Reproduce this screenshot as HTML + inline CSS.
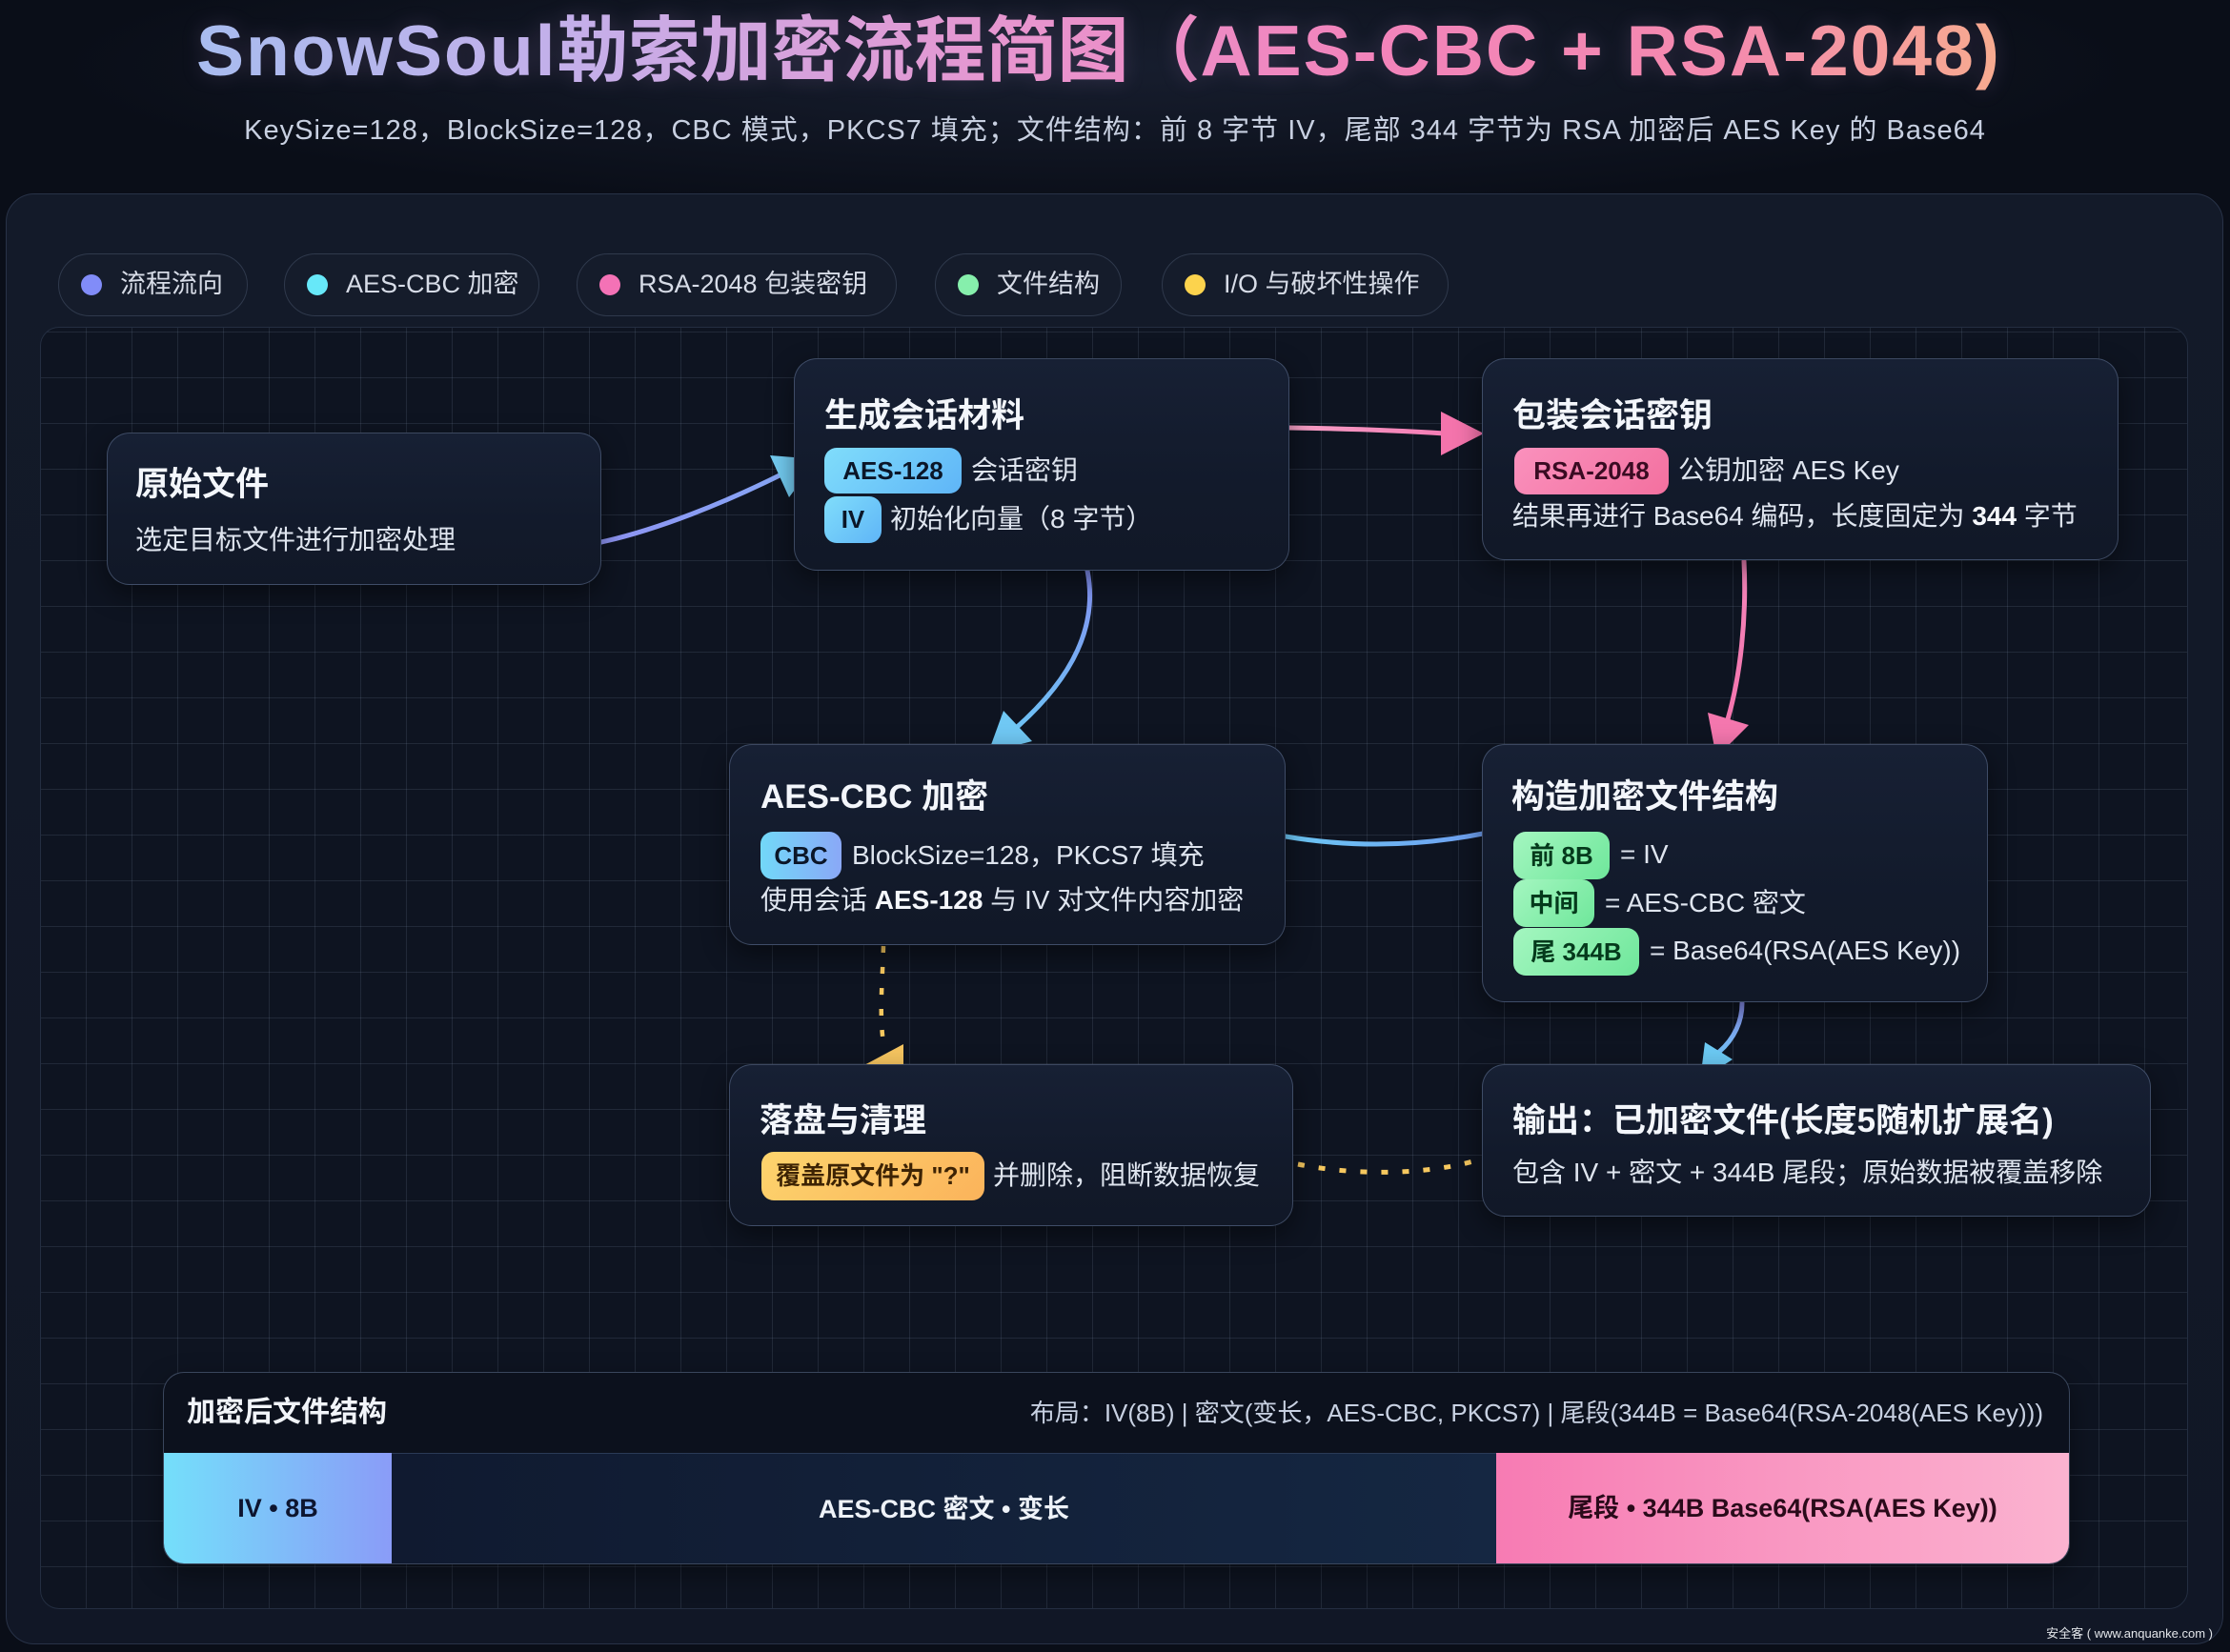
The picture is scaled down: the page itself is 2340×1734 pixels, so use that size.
<!DOCTYPE html>
<html><head><meta charset="utf-8">
<style>
*{margin:0;padding:0;box-sizing:border-box}
body{width:2340px;height:1734px;background:#0a0e18;position:relative;overflow:hidden;font-family:"Liberation Sans","Noto Sans CJK SC",sans-serif;color:#dfe5ef}
.abs{position:absolute;white-space:nowrap}
#glow{position:absolute;left:0;top:0;width:2340px;height:260px;background:radial-gradient(ellipse 1100px 150px at 1150px 70px,rgba(70,85,125,0.22),rgba(10,14,24,0) 100%)}
#title{position:absolute;left:206px;top:8px;font-size:75px;line-height:90px;font-weight:700;white-space:nowrap;background:linear-gradient(90deg,#a8bcef 0%,#c6aee9 22%,#e795cf 45%,#f283bb 65%,#f48aae 85%,#f7ab8f 100%);-webkit-background-clip:text;background-clip:text;color:transparent;-webkit-text-fill-color:transparent;filter:drop-shadow(0 0 10px rgba(200,150,220,0.18))}
#title .l{letter-spacing:2px}
#sub{position:absolute;left:0;width:2340px;top:118px;text-align:center;font-size:29px;line-height:38px;letter-spacing:1px;color:#c8d0e1;white-space:nowrap}
#outer{position:absolute;left:6px;top:203px;width:2327px;height:1523px;border-radius:30px;background:linear-gradient(180deg,#131a29,#111726);border:1.5px solid #283247}
.pill{position:absolute;top:266px;height:66px;border-radius:33px;background:#151c2b;border:1.5px solid #2f394c;font-size:27px;line-height:63px;color:#d7dce7;white-space:nowrap}
.pill .dot{position:absolute;left:23px;top:21px;width:22px;height:22px;border-radius:50%}
.pill span{position:absolute;left:64px;top:0}
#inner{position:absolute;left:42px;top:343px;width:2254px;height:1346px;border-radius:20px;border:1px solid #242e41;background-color:#0e1421;background-image:linear-gradient(rgba(150,168,198,0.14) 1px,transparent 1px),linear-gradient(90deg,rgba(150,168,198,0.14) 1px,transparent 1px);background-size:48px 48px;background-position:-1px 4px}
svg#conn{position:absolute;left:0;top:0;z-index:3}
.node{position:absolute;z-index:4;border-radius:24px;border:1.5px solid rgba(125,145,182,0.40);background:linear-gradient(180deg,#172034 0%,#121a2b 60%,#111827 100%);box-shadow:0 10px 28px rgba(0,0,0,0.45)}
.tt{position:absolute;z-index:5;white-space:nowrap;font-size:35px;line-height:44px;font-weight:700;color:#f3f6fb}
.tx{position:absolute;z-index:5;white-space:nowrap;font-size:28px;line-height:36px;color:#dfe5ef}
.tx b{color:#f5f7fb}
.bd{position:absolute;z-index:5;white-space:nowrap;font-size:26px;font-weight:700;text-align:center;border-radius:13px}
.blue{background:linear-gradient(135deg,#80ddfb 0%,#5fb5f7 100%);color:#0b1628}
.blue2{background:linear-gradient(90deg,#72d8f8 0%,#8aa8f7 100%);color:#0b1628}
.pink{background:linear-gradient(135deg,#fa91bd 0%,#f3709f 100%);color:#3a0b22}
.green{background:linear-gradient(135deg,#a4f6c0 0%,#6fe79b 100%);color:#053a1c}
.orange{background:linear-gradient(135deg,#fdd46d 0%,#fbb35b 100%);color:#3d2304}
#bp{position:absolute;z-index:4;left:171px;top:1440px;width:2001px;height:202px;border-radius:22px;border:1px solid rgba(125,145,182,0.42);background:#0c111d;overflow:hidden;box-shadow:0 10px 28px rgba(0,0,0,0.4)}
.seg{position:absolute;top:84px;height:117px;font-size:27px;font-weight:700;line-height:117px;text-align:center;white-space:nowrap}
#wm{position:absolute;right:18px;top:1706px;font-size:13px;line-height:18px;color:#e3e6ea;white-space:nowrap}
</style></head>
<body>
<div id="glow"></div>
<div id="title"><span class="l">SnowSoul</span>勒索加密流程简图（<span class="l">AES-CBC + RSA-2048)</span></div>
<div id="sub">KeySize=128，BlockSize=128，CBC 模式，PKCS7 填充；文件结构：前 8 字节 IV，尾部 344 字节为 RSA 加密后 AES Key 的 Base64</div>

<div id="outer"></div>

<div class="pill" style="left:61px;width:199px"><div class="dot" style="background:#818cf8"></div><span>流程流向</span></div>
<div class="pill" style="left:298px;width:268px"><div class="dot" style="background:#67e8f9"></div><span>AES-CBC 加密</span></div>
<div class="pill" style="left:605px;width:336px"><div class="dot" style="background:#f472b6"></div><span>RSA-2048 包装密钥</span></div>
<div class="pill" style="left:981px;width:196px"><div class="dot" style="background:#86efac"></div><span>文件结构</span></div>
<div class="pill" style="left:1219px;width:301px"><div class="dot" style="background:#fcd34d"></div><span>I/O 与破坏性操作</span></div>

<div id="inner"></div>

<svg id="conn" width="2340" height="1734" viewBox="0 0 2340 1734" xmlns="http://www.w3.org/2000/svg">
<defs>
<linearGradient id="gA" gradientUnits="userSpaceOnUse" x1="631" y1="569" x2="830" y2="490"><stop offset="0" stop-color="#8e94f3"/><stop offset="1" stop-color="#86a6f4"/></linearGradient>
<linearGradient id="gB" gradientUnits="userSpaceOnUse" x1="1353" y1="0" x2="1555" y2="0"><stop offset="0" stop-color="#f6a0c6"/><stop offset="1" stop-color="#f474b0"/></linearGradient>
<linearGradient id="gC" gradientUnits="userSpaceOnUse" x1="0" y1="600" x2="0" y2="780"><stop offset="0" stop-color="#8390f2"/><stop offset="1" stop-color="#6cc6f4"/></linearGradient>
<linearGradient id="gD" gradientUnits="userSpaceOnUse" x1="0" y1="589" x2="0" y2="781"><stop offset="0" stop-color="#f486ba"/><stop offset="1" stop-color="#f472ac"/></linearGradient>
<linearGradient id="gE" gradientUnits="userSpaceOnUse" x1="1349" y1="0" x2="1555" y2="0"><stop offset="0" stop-color="#6cc6f4"/><stop offset="1" stop-color="#6fa0f1"/></linearGradient>
<linearGradient id="gF" gradientUnits="userSpaceOnUse" x1="0" y1="1053" x2="0" y2="1117"><stop offset="0" stop-color="#8a90f0"/><stop offset="1" stop-color="#6cc8f4"/></linearGradient>
</defs>
<g fill="none" stroke-linecap="round">
<path d="M 631 569 C 690 556, 760 528, 822 497" stroke="url(#gA)" stroke-width="5"/>
<path d="M 1353 449 C 1420 450, 1470 452, 1516 455" stroke="url(#gB)" stroke-width="5"/>
<path d="M 1141 599 C 1152 655, 1128 710, 1064 766" stroke="url(#gC)" stroke-width="5"/>
<path d="M 1830 589 C 1833 650, 1826 710, 1813 755" stroke="url(#gD)" stroke-width="5"/>
<path d="M 1349 878 C 1420 890, 1490 888, 1556 875" stroke="url(#gE)" stroke-width="5"/>
<path d="M 1828 1053 C 1828 1072, 1820 1090, 1804 1104" stroke="url(#gF)" stroke-width="5"/>
<path d="M 927 993 C 926 1030, 922 1070, 928 1100" stroke="#f6c85f" stroke-width="4.5" stroke-dasharray="7 15" stroke-linecap="butt"/>
<path d="M 1362 1222 C 1420 1234, 1500 1234, 1556 1216" stroke="#f6c85f" stroke-width="5" stroke-dasharray="7 15" stroke-linecap="butt"/>
</g>
<polygon points="808,478 858,482 828,522" fill="#74cdf3"/>
<polygon points="1512,432 1557,455 1512,478" fill="#f474ac"/>
<polygon points="1053,746 1083,778 1037,790" fill="#70c8f4"/>
<polygon points="1792,748 1835,761 1801,795" fill="#f477ae"/>
<polygon points="1789,1094 1818,1112 1784,1134" fill="#6ccaf4"/>
<polygon points="948,1096 905,1119 948,1122" fill="#f6c560"/>
</svg>

<!-- Node 1 -->
<div class="node" style="left:112px;top:454px;width:519px;height:160px"></div>
<div class="tt" style="left:142px;top:487px">原始文件</div>
<div class="tx" style="left:142px;top:549px">选定目标文件进行加密处理</div>

<!-- Node 2 -->
<div class="node" style="left:833px;top:376px;width:520px;height:223px"></div>
<div class="tt" style="left:865px;top:415px">生成会话材料</div>
<div class="bd blue" style="left:865px;top:470px;width:144px;height:48px;line-height:48px">AES-128</div>
<div class="tx" style="left:1019px;top:476px">会话密钥</div>
<div class="bd blue" style="left:865px;top:521px;width:60px;height:49px;line-height:49px">IV</div>
<div class="tx" style="left:934px;top:527px">初始化向量（8 字节）</div>

<!-- Node 3 -->
<div class="node" style="left:1555px;top:376px;width:668px;height:212px"></div>
<div class="tt" style="left:1587px;top:415px">包装会话密钥</div>
<div class="bd pink" style="left:1589px;top:470px;width:162px;height:49px;line-height:49px">RSA-2048</div>
<div class="tx" style="left:1761px;top:476px">公钥加密 AES Key</div>
<div class="tx" style="left:1587px;top:524px">结果再进行 Base64 编码，长度固定为 <b>344</b> 字节</div>

<!-- Node 4 -->
<div class="node" style="left:765px;top:781px;width:584px;height:211px"></div>
<div class="tt" style="left:798px;top:815px">AES-CBC 加密</div>
<div class="bd blue2" style="left:798px;top:873px;width:85px;height:50px;line-height:50px">CBC</div>
<div class="tx" style="left:894px;top:880px">BlockSize=128，PKCS7 填充</div>
<div class="tx" style="left:798px;top:927px">使用会话 <b>AES-128</b> 与 IV 对文件内容加密</div>

<!-- Node 5 -->
<div class="node" style="left:1555px;top:781px;width:531px;height:271px"></div>
<div class="tt" style="left:1586px;top:815px">构造加密文件结构</div>
<div class="bd green" style="left:1588px;top:873px;width:101px;height:50px;line-height:50px">前 8B</div>
<div class="tx" style="left:1700px;top:879px">= IV</div>
<div class="bd green" style="left:1588px;top:923px;width:85px;height:50px;line-height:50px">中间</div>
<div class="tx" style="left:1684px;top:930px">= AES-CBC 密文</div>
<div class="bd green" style="left:1588px;top:974px;width:132px;height:50px;line-height:50px">尾 344B</div>
<div class="tx" style="left:1731px;top:980px">= Base64(RSA(AES Key))</div>

<!-- Node 6 -->
<div class="node" style="left:765px;top:1117px;width:592px;height:170px"></div>
<div class="tt" style="left:797px;top:1155px">落盘与清理</div>
<div class="bd orange" style="left:799px;top:1209px;width:234px;height:51px;line-height:51px">覆盖原文件为 "?"</div>
<div class="tx" style="left:1042px;top:1216px">并删除，阻断数据恢复</div>

<!-- Node 7 -->
<div class="node" style="left:1555px;top:1117px;width:702px;height:160px"></div>
<div class="tt" style="left:1587px;top:1155px">输出：已加密文件(长度5随机扩展名)</div>
<div class="tx" style="left:1587px;top:1213px">包含 IV + 密文 + 344B 尾段；原始数据被覆盖移除</div>

<!-- Bottom structure panel -->
<div id="bp">
  <div class="abs" style="left:24px;top:24px;font-size:30px;line-height:36px;font-weight:700;color:#f1f4f9">加密后文件结构</div>
  <div class="abs" style="right:27px;top:24px;font-size:26px;line-height:36px;color:#c8d1e2">布局：IV(8B) | 密文(变长，AES-CBC, PKCS7) | 尾段(344B = Base64(RSA-2048(AES Key)))</div>
  <div class="seg" style="left:0;width:239px;background:linear-gradient(90deg,#74dffa,#8a9cf8);color:#0d1530">IV • 8B</div>
  <div class="seg" style="left:239px;width:1159px;background:linear-gradient(90deg,#101a30,#152742);border-top:1px solid #2a3a56;color:#eef2f8">AES-CBC 密文 • 变长</div>
  <div class="seg" style="left:1398px;width:601px;background:linear-gradient(90deg,#f77bb3,#fbb3d0);color:#2a0a1a">尾段 • 344B Base64(RSA(AES Key))</div>
</div>

<div id="wm">安全客 ( www.anquanke.com )</div>
</body></html>
